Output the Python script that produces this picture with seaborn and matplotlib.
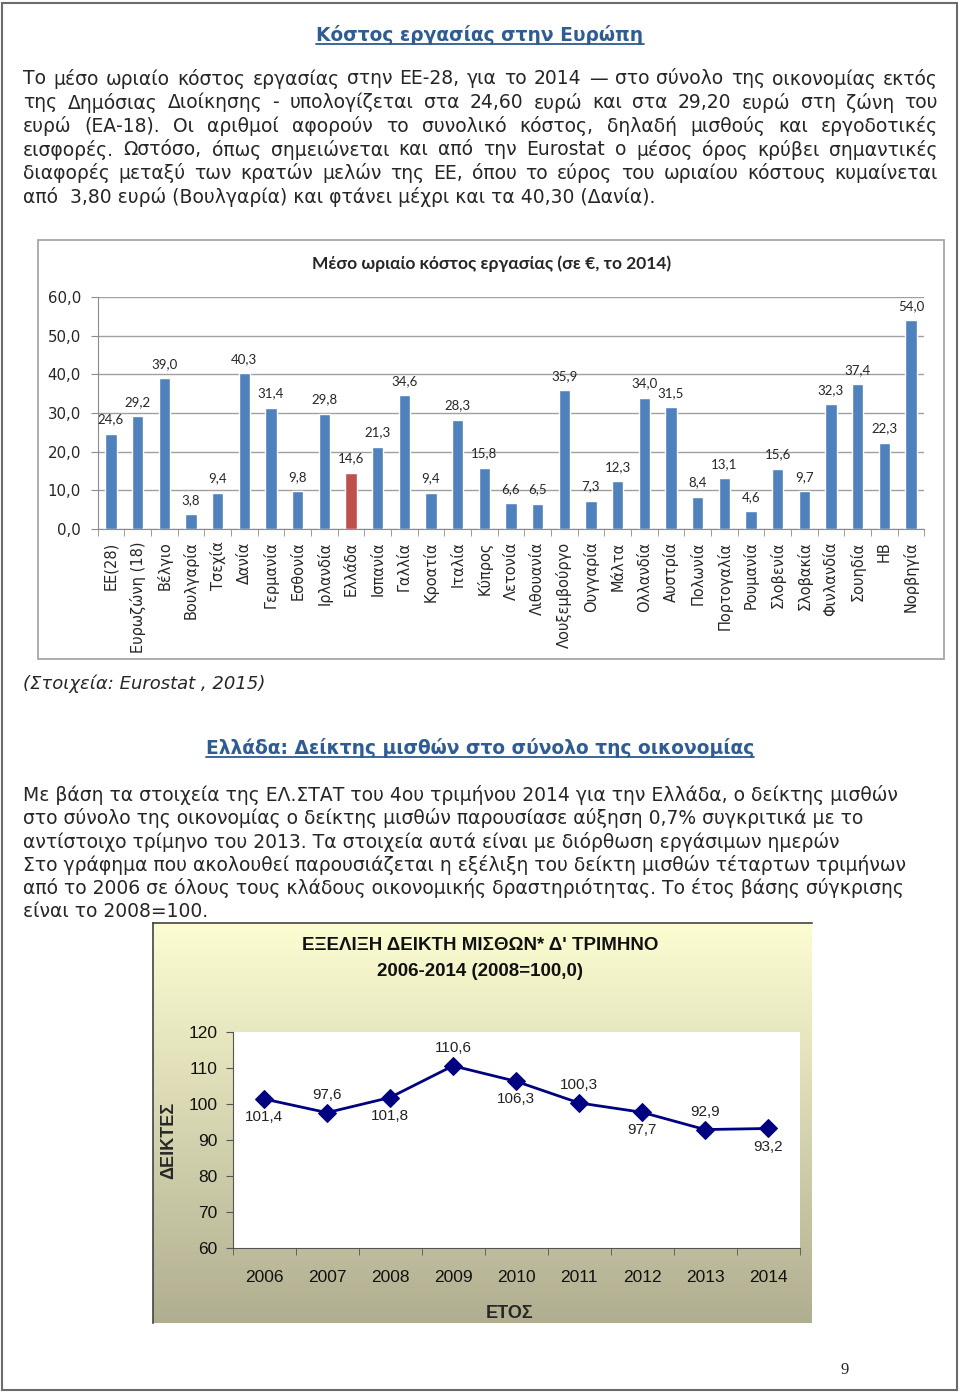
import numpy as np
import matplotlib
matplotlib.use("Agg")
import matplotlib.pyplot as plt
import seaborn as sns
from matplotlib.patches import Rectangle
from matplotlib.lines import Line2D
from matplotlib.ticker import FuncFormatter

# --- data -------------------------------------------------------------
countries = ["ΕΕ(28)", "Ευρωζώνη (18)", "Βέλγιο", "Βουλγαρία", "Τσεχία", "Δανία",
             "Γερμανία", "Εσθονία", "Ιρλανδία", "Ελλάδα", "Ισπανία", "Γαλλία",
             "Κροατία", "Ιταλία", "Κύπρος", "Λετονία", "Λιθουανία", "Λουξεμβούργο",
             "Ουγγαρία", "Μάλτα", "Ολλανδία", "Αυστρία", "Πολωνία", "Πορτογαλία",
             "Ρουμανία", "Σλοβενία", "Σλοβακία", "Φινλανδία", "Σουηδία", "ΗΒ", "Νορβηγία"]
cost_2014 = [24.6, 29.2, 39.0, 3.8, 9.4, 40.3, 31.4, 9.8, 29.8, 14.6, 21.3, 34.6,
             9.4, 28.3, 15.8, 6.6, 6.5, 35.9, 7.3, 12.3, 34.0, 31.5, 8.4, 13.1,
             4.6, 15.6, 9.7, 32.3, 37.4, 22.3, 54.0]
highlight = "Ελλάδα"

years = [2006, 2007, 2008, 2009, 2010, 2011, 2012, 2013, 2014]
wage_index = [101.4, 97.6, 101.8, 110.6, 106.3, 100.3, 97.7, 92.9, 93.2]

para1 = [
    "Το μέσο ωριαίο κόστος εργασίας στην ΕΕ-28, για το 2014 — στο σύνολο της οικονομίας εκτός",
    "της Δημόσιας Διοίκησης - υπολογίζεται στα 24,60 ευρώ και στα 29,20 ευρώ στη ζώνη του",
    "ευρώ (ΕΑ-18). Οι αριθμοί αφορούν το συνολικό κόστος, δηλαδή μισθούς και εργοδοτικές",
    "εισφορές. Ωστόσο, όπως σημειώνεται και από την Eurostat ο μέσος όρος κρύβει σημαντικές",
    "διαφορές μεταξύ των κρατών μελών της ΕΕ, όπου το εύρος του ωριαίου κόστους κυμαίνεται",
    "από  3,80 ευρώ (Βουλγαρία) και φτάνει μέχρι και τα 40,30 (Δανία).",
]
para2 = [
    "Με βάση τα στοιχεία της ΕΛ.ΣΤΑΤ του 4ου τριμήνου 2014 για την Ελλάδα, ο δείκτης μισθών",
    "στο σύνολο της οικονομίας ο δείκτης μισθών παρουσίασε αύξηση 0,7% συγκριτικά με το",
    "αντίστοιχο τρίμηνο του 2013. Τα στοιχεία αυτά είναι με διόρθωση εργάσιμων ημερών",
    "Στο γράφημα που ακολουθεί παρουσιάζεται η εξέλιξη του δείκτη μισθών τέταρτων τριμήνων",
    "από το 2006 σε όλους τους κλάδους οικονομικής δραστηριότητας. Το έτος βάσης σύγκρισης",
    "είναι το 2008=100.",
]

# --- page setup -------------------------------------------------------
sns.set_style("white")
plt.rcParams["font.family"] = ["DejaVu Sans"]

W, H = 960, 1393
BODY = 13.5
fig = plt.figure(figsize=(W / 100, H / 100), dpi=100)
fig.patch.set_facecolor("white")
r = fig.canvas.get_renderer()


def frect(x, y, w, h):
    return [x / W, 1 - (y + h) / H, w / W, h / H]


def ftext(x, y, s, **kw):
    kw.setdefault("va", "center")
    return fig.text(x / W, 1 - y / H, s, **kw)


def underline(t, color):
    bb = t.get_window_extent(r)
    yy = (bb.y0 + 1) / H
    fig.add_artist(Line2D([bb.x0 / W, bb.x1 / W], [yy, yy], color=color, lw=1.3))


def justified(line, y, x0=23, x1=938, size=BODY):
    words = line.split()
    texts = [ftext(0, y, w, fontsize=size, ha="left") for w in words]
    widths = [t.get_window_extent(r).width for t in texts]
    gap = (x1 - x0 - sum(widths)) / (len(words) - 1)
    x = x0
    for t, wd in zip(texts, widths):
        t.set_x(x / W)
        x += wd + gap


fig.add_artist(Rectangle((2 / W, 3 / H), 955 / W, 1387 / H, transform=fig.transFigure,
                         fill=False, edgecolor="#6b6b6b", lw=1.5))

title_blue = "#2E5C93"
t1 = ftext(480, 35, "Κόστος εργασίας στην Ευρώπη", fontsize=13.4, fontweight="bold",
           color=title_blue, ha="center")
underline(t1, title_blue)

for i, line in enumerate(para1):
    y = 79 + i * 23.6
    if i < len(para1) - 1:
        justified(line, y)
    else:
        ftext(23, y, line, fontsize=BODY, ha="left")

# --- bar chart --------------------------------------------------------
fig.add_artist(Rectangle((38 / W, 1 - 659 / H), 906 / W, 419 / H, transform=fig.transFigure,
                         fill=False, edgecolor="#a6a6a6", lw=1.3))

axb = fig.add_axes(frect(97.7, 297, 826.6, 232))
bar_colors = ["#C0504D" if c == highlight else "#4F81BD" for c in countries]
sns.barplot(x=countries, y=cost_2014, hue=countries, palette=bar_colors, legend=False,
            width=0.42, saturation=1, ax=axb)
n = len(countries)
axb.set_xlim(-0.5, n - 0.5)
axb.set_ylim(0, 60)
axb.set_yticks(range(0, 61, 10))
axb.yaxis.set_major_formatter(FuncFormatter(lambda v, p: f"{v:.1f}".replace(".", ",")))
axb.yaxis.grid(True, color="#a0a0a0", lw=1)
axb.set_axisbelow(True)
for s in ["top", "right"]:
    axb.spines[s].set_visible(False)
for s in ["left", "bottom"]:
    axb.spines[s].set_color("#8c8c8c")
axb.tick_params(axis="y", length=5, color="#8c8c8c", labelsize=10.8, pad=7, left=True)
axb.set_xticks(range(n))
axb.set_xticklabels(countries, rotation=90, fontsize=10.5)
axb.set_xticks(np.arange(-0.5, n, 1), minor=True)
axb.tick_params(axis="x", which="major", length=0, pad=9)
axb.tick_params(axis="x", which="minor", length=5, color="#8c8c8c", bottom=True)
axb.set_xlabel("")
axb.set_ylabel("")
for i, v in enumerate(cost_2014):
    axb.annotate(f"{v:.1f}".replace(".", ","), (i, v), xytext=(0, 6), textcoords="offset points",
                 ha="center", va="bottom", fontsize=9.5, family="Lato")
axb.text(0.476, 1.142, "Μέσο ωριαίο κόστος εργασίας (σε €, το 2014)", transform=axb.transAxes,
         ha="center", va="center", fontsize=12.5, fontweight="bold", family="Lato")

ftext(23, 684, "(Στοιχεία: Eurostat , 2015)", fontsize=13, style="italic", ha="left")

t2 = ftext(480, 748, "Ελλάδα: Δείκτης μισθών στο σύνολο της οικονομίας", fontsize=13.4,
           fontweight="bold", color=title_blue, ha="center")
underline(t2, title_blue)

for i, line in enumerate(para2):
    ftext(23, 795 + i * 23.3, line, fontsize=BODY, ha="left")

# --- line chart -------------------------------------------------------
bg = fig.add_axes(frect(153, 923, 659, 400))
top = np.array([253, 253, 210]) / 255
bottom = np.array([176, 174, 144]) / 255
g = np.linspace(0, 1, 256)[:, None, None]
grad = top * (1 - g) + bottom * g
bg.imshow(np.repeat(grad, 2, axis=1), aspect="auto", extent=[0, 1, 0, 1])
bg.set_xticks([])
bg.set_yticks([])
for s in bg.spines.values():
    s.set_visible(False)
for s in ["top", "left"]:
    bg.spines[s].set_visible(True)
    bg.spines[s].set_color("#444444")
    bg.spines[s].set_linewidth(1.2)

ftext(480, 945, "ΕΞΕΛΙΞΗ ΔΕΙΚΤΗ ΜΙΣΘΩΝ* Δ' ΤΡΙΜΗΝΟ", fontsize=13.5, fontweight="bold",
      family="Liberation Sans", ha="center", color="#111111")
ftext(480, 971, "2006-2014 (2008=100,0)", fontsize=13.5, fontweight="bold",
      family="Liberation Sans", ha="center", color="#111111")

axl = fig.add_axes(frect(232.5, 1032, 567, 216))
axl.set_facecolor("white")
sns.lineplot(x=years, y=wage_index, ax=axl, color="#000080", lw=2, marker="D",
             markersize=9, markeredgecolor="#000080")
axl.set_xlim(2005.5, 2014.5)
axl.set_ylim(60, 120)
axl.set_xticks(years)
axl.set_xticks(np.arange(2005.5, 2015, 1), minor=True)
axl.set_yticks(range(60, 121, 10))
for s in ["top", "right"]:
    axl.spines[s].set_visible(False)
for s in ["left", "bottom"]:
    axl.spines[s].set_color("#555555")
axl.tick_params(axis="x", which="major", length=0, pad=16, labelsize=12.5)
axl.tick_params(axis="x", which="minor", length=5, color="#555555", bottom=True)
axl.tick_params(axis="y", length=5, color="#555555", left=True, labelsize=12.5, pad=6)
for lab in axl.get_xticklabels() + axl.get_yticklabels():
    lab.set_family("Liberation Sans")
    lab.set_color("#111111")
for i, (yr, v) in enumerate(zip(years, wage_index)):
    side = 1 if i % 2 else -1
    axl.annotate(f"{v:.1f}".replace(".", ","), (yr, v), xytext=(0, 13 * side),
                 textcoords="offset points", ha="center", va="center", fontsize=11,
                 family="Liberation Sans", color="#222222")
axl.set_xlabel("ΕΤΟΣ", fontsize=13, fontweight="bold", family="Liberation Sans")
axl.set_ylabel("ΔΕΙΚΤΕΣ", fontsize=13, fontweight="bold", family="Liberation Sans")
axl.xaxis.set_label_coords(0.489, -0.265)
axl.yaxis.set_label_coords(-0.098, 0.5)

ftext(845, 1370, "9", fontsize=12, family="Liberation Serif", ha="center")

fig.savefig("out.png", dpi=100)
